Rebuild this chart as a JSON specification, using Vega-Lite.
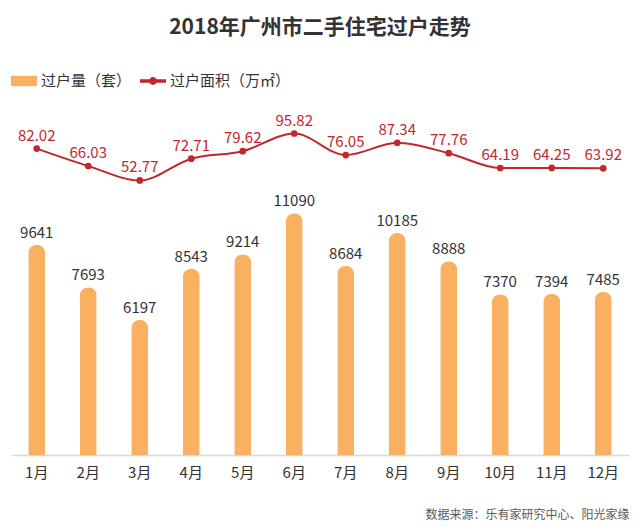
{
  "$schema": "https://vega.github.io/schema/vega-lite/v6.json",
  "width": 618,
  "height": 346,
  "padding": {"left": 11, "right": 11, "top": 17, "bottom": 8},
  "background": "white",
  "config": {
    "view": {"stroke": null},
    "font": "Noto Sans CJK SC",
    "title": {"font": "Noto Sans CJK SC"}
  },
  "title": {
    "text": "2018年广州市二手住宅过户走势",
    "fontSize": 21,
    "fontWeight": "bold",
    "color": "#333333",
    "anchor": "middle",
    "offset": 30
  },
  "data": {
    "values": [
      {"month": "1月", "count": 9641, "area": 82.02},
      {"month": "2月", "count": 7693, "area": 66.03},
      {"month": "3月", "count": 6197, "area": 52.77},
      {"month": "4月", "count": 8543, "area": 72.71},
      {"month": "5月", "count": 9214, "area": 79.62},
      {"month": "6月", "count": 11090, "area": 95.82},
      {"month": "7月", "count": 8684, "area": 76.05},
      {"month": "8月", "count": 10185, "area": 87.34},
      {"month": "9月", "count": 8888, "area": 77.76},
      {"month": "10月", "count": 7370, "area": 64.19},
      {"month": "11月", "count": 7394, "area": 64.25},
      {"month": "12月", "count": 7485, "area": 63.92}
    ]
  },
  "encoding": {
    "x": {
      "field": "month",
      "type": "ordinal",
      "sort": null,
      "scale": {"paddingInner": 0, "paddingOuter": 0},
      "axis": {
        "title": "数据来源：乐有家研究中心、阳光家缘",
        "titleAnchor": "end",
        "titleAlign": "right",
        "titleFontSize": 12,
        "titleFontWeight": "normal",
        "titleColor": "#595959",
        "titlePadding": 29,
        "labelAngle": 0,
        "labelFontSize": 15,
        "labelColor": "#333333",
        "labelPadding": 10,
        "ticks": false,
        "domainColor": "#d9d9d9",
        "domainWidth": 1.5
      }
    }
  },
  "layer": [
    {
      "mark": {"type": "bar", "width": 17, "cornerRadiusTopLeft": 8.5, "cornerRadiusTopRight": 8.5},
      "encoding": {
        "y": {"field": "count", "type": "quantitative", "scale": {"domain": [0, 15872]}, "axis": null},
        "color": {
          "datum": "过户量（套）",
          "type": "nominal",
          "scale": {"domain": ["过户量（套）", "过户面积（万㎡）"], "range": ["#F9B061", "#C1272D"]},
          "legend": {
            "title": null,
            "orient": "top",
            "direction": "horizontal",
            "labelFontSize": 15,
            "labelColor": "#333333",
            "symbolSize": 676,
            "labelOffset": 4,
            "columnPadding": 8,
            "offset": 20,
            "symbolStrokeWidth": 0,
            "encode": {
              "symbols": {
                "update": {
                  "shape": {"signal": "datum.value === '过户量（套）' ? 'M-1,-0.4H1V0.4H-1Z' : 'M-1,-0.13H1V0.13H-1Z M0.3,0A0.3,0.3 0 1 1 -0.3,0A0.3,0.3 0 1 1 0.3,0Z'"},
                  "fill": {"signal": "datum.value === '过户量（套）' ? '#F9B061' : '#C1272D'"},
                  "strokeWidth": {"value": 0},
                  "opacity": {"value": 1}
                }
              }
            }
          }
        }
      }
    },
    {
      "mark": {"type": "text", "dy": -12, "fontSize": 15, "color": "#333333"},
      "encoding": {
        "y": {"field": "count", "type": "quantitative", "scale": {"domain": [0, 15872]}, "axis": null},
        "text": {"field": "count", "type": "quantitative", "format": "d"}
      }
    },
    {
      "mark": {"type": "line", "interpolate": "monotone", "strokeWidth": 2, "point": {"filled": true, "size": 45}},
      "encoding": {
        "y": {"field": "area", "type": "quantitative", "scale": {"domain": [-199, 118.3]}, "axis": null},
        "color": {"datum": "过户面积（万㎡）", "type": "nominal"}
      }
    },
    {
      "mark": {"type": "text", "dy": -13, "fontSize": 15, "color": "#C1272D"},
      "encoding": {
        "y": {"field": "area", "type": "quantitative", "scale": {"domain": [-199, 118.3]}, "axis": null},
        "text": {"field": "area", "type": "quantitative", "format": ".2f"}
      }
    }
  ],
  "resolve": {"scale": {"y": "independent"}}
}
